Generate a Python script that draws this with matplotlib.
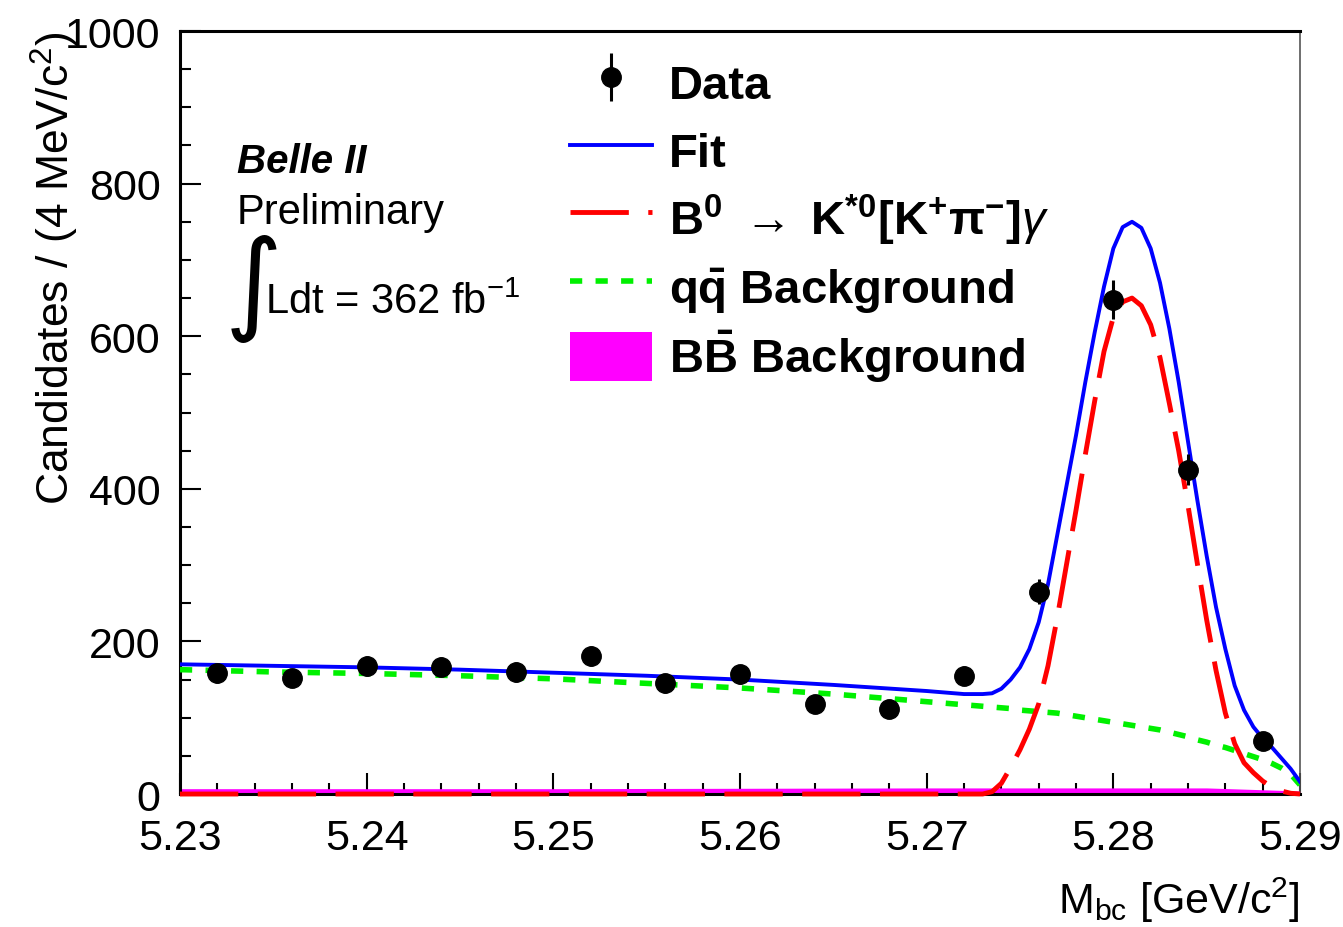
import matplotlib
matplotlib.use("Agg")
import matplotlib.pyplot as plt
from matplotlib.ticker import MultipleLocator, FormatStrFormatter
from matplotlib.lines import Line2D
from matplotlib.patches import Patch, Rectangle
from matplotlib.legend_handler import HandlerPatch
import numpy as np

plt.rcParams['font.family'] = ['Liberation Sans', 'DejaVu Sans']
plt.rcParams['mathtext.fontset'] = 'custom'
plt.rcParams['mathtext.rm'] = 'Liberation Sans'
plt.rcParams['mathtext.it'] = 'Liberation Sans:italic'
plt.rcParams['mathtext.bf'] = 'Liberation Sans:bold'

# binned data, 4 MeV bins
mbc_data = [5.232, 5.236, 5.240, 5.244, 5.248, 5.252, 5.256, 5.260,
            5.264, 5.268, 5.272, 5.276, 5.280, 5.284, 5.288]
counts = [158, 152, 168, 167, 160, 181, 145, 157,
          118, 112, 155, 265, 648, 425, 70]

# fit projections
mbc_grid = [5.230, 5.235, 5.240, 5.245, 5.250, 5.255, 5.260, 5.265, 5.270,
            5.272, 5.273, 5.2735, 5.2740, 5.2745, 5.2750, 5.2755, 5.2760,
            5.2765, 5.2770, 5.2775, 5.2780, 5.2785, 5.2790, 5.2795, 5.2800,
            5.2805, 5.2810, 5.2815, 5.2820, 5.2825, 5.2830, 5.2835, 5.2840,
            5.2845, 5.2850, 5.2855, 5.2860, 5.2865, 5.2870, 5.2875, 5.2880,
            5.2885, 5.2890, 5.2895, 5.2900]
fit_total = [170, 168, 166, 163, 159, 155, 150, 143, 135,
             131, 131, 132, 138, 150, 166, 190, 225,
             275, 340, 405, 470, 540, 605, 665, 715,
             743, 750, 742, 715, 670, 610, 540, 462,
             385, 312, 245, 190, 142, 110, 88, 73,
             61, 47, 33, 16]
fit_signal = [0, 0, 0, 0, 0, 0, 0, 0, 0,
              0, 0, 3, 14, 35, 58, 85, 118,
              168, 232, 302, 372, 445, 515, 580, 625,
              645, 650, 640, 615, 572, 512, 450, 378,
              302, 228, 162, 106, 66, 41, 28, 17,
              9, 4, 1, 0]
fit_qq = [163, 160, 158, 155, 151, 145, 139, 131, 121,
          117, 115, 114, 113, 112, 110, 109, 108,
          107, 106, 104, 102, 100, 98, 96, 94,
          92, 90, 88, 86, 84, 81, 78, 75,
          71, 68, 64, 61, 57, 53, 49, 45,
          40, 34, 26, 12]
mbc_bb = [5.230, 5.250, 5.270, 5.280, 5.285, 5.290]
fit_bb = [7, 7, 8, 8, 8, 4]

GREEN = '#00f000'
MAGENTA = '#ff00ff'
sig_dash = [12, 4]
qq_dash = [2.2, 2.4]

fig = plt.figure(figsize=(13.43, 9.28), dpi=100)
ax = fig.add_axes([0.134, 0.1433, 0.834, 0.8222])

ax.fill_between(mbc_bb, 0, fit_bb, color=MAGENTA, lw=0, zorder=2)
ax.plot(mbc_grid, fit_qq, color=GREEN, lw=4, dashes=qq_dash, zorder=3)
ax.plot(mbc_grid, fit_signal, color='red', lw=3.5, dashes=sig_dash,
        zorder=4, clip_on=False)
ax.plot(mbc_grid, fit_total, color='blue', lw=2.8, zorder=5)
err = np.sqrt(counts)
data = ax.errorbar(mbc_data, counts, yerr=err, fmt='o', color='black', ms=14,
                   elinewidth=2.2, capsize=0, zorder=6)

ax.set_xlim(5.23, 5.29)
ax.set_ylim(0, 1000)
ax.xaxis.set_major_locator(MultipleLocator(0.01))
ax.xaxis.set_minor_locator(MultipleLocator(0.002))
ax.yaxis.set_major_locator(MultipleLocator(200))
ax.yaxis.set_minor_locator(MultipleLocator(50))
ax.xaxis.set_major_formatter(FormatStrFormatter('%.2f'))
ax.tick_params(which='both', direction='in', top=False, right=False,
               labelsize=31, width=1.5)
ax.tick_params(axis='x', pad=17)
ax.tick_params(axis='y', pad=14)
ax.tick_params(which='major', length=15)
ax.tick_params(which='minor', length=8)
for s in ['left', 'bottom', 'top']:
    ax.spines[s].set_linewidth(2.2)
ax.spines['right'].set_linewidth(1.2)
ax.spines['right'].set_color('#555555')

ax.set_ylabel(r'Candidates / (4 MeV/c$^{2}$)', fontsize=32, loc='top')
ax.yaxis.set_label_coords(-0.088, 1.0)
ax.set_xlabel(r'M$_{\mathrm{bc}}$ [GeV/c$^{2}$]', fontsize=31, loc='right')
ax.xaxis.set_label_coords(1.0, -0.105)

ax.text(0.051, 0.83, 'Belle II', transform=ax.transAxes, fontsize=29,
        fontweight='bold', fontstyle='italic', va='center')
ax.text(0.051, 0.763, 'Preliminary', transform=ax.transAxes, fontsize=30,
        va='center')
ax.text(0.040, 0.663, '\u222b', transform=ax.transAxes, fontsize=80,
        family='DejaVu Sans', va='center')
ax.text(0.076, 0.645, r'Ldt = 362 fb$^{-1}$', transform=ax.transAxes,
        fontsize=30, va='center')


def small_box(legend, orig_handle, xdescent, ydescent, width, height, fontsize):
    h = 1.02 * fontsize
    return Rectangle((-xdescent, -ydescent + (height - h) / 2), width, h)


handles = [data,
           Line2D([], [], color='blue', lw=2.8),
           Line2D([], [], color='red', lw=3.5, dashes=sig_dash),
           Line2D([], [], color=GREEN, lw=4, dashes=qq_dash),
           Patch(facecolor=MAGENTA, edgecolor='none')]
labels = ['Data', 'Fit',
          r'B$^{\mathbf{0}}$ $\rightarrow\;$K$^{\mathbf{*0}}$[K$^{\mathbf{+}}$$\mathbf{\pi^{-}}$]$\gamma$',
          r'$\mathbf{q\bar{q}}$ Background',
          r'$\mathbf{B\bar{B}}$ Background']
ax.legend(handles, labels, loc='upper left', bbox_to_anchor=(0.348, 0.968),
          frameon=False, prop={'weight': 'bold', 'size': 34},
          borderpad=0, borderaxespad=0, handlelength=1.75, handleheight=1.4,
          handletextpad=0.35, labelspacing=0.28,
          handler_map={Patch: HandlerPatch(patch_func=small_box)})

fig.savefig('out.png', dpi=100)
